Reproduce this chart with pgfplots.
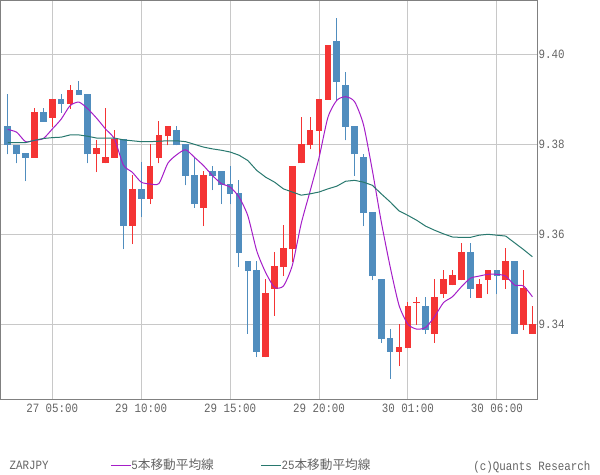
\documentclass[border=0pt]{standalone}
\usepackage{fontspec}
\usepackage{pgfplots}
\usepackage{pgfplotstable}
\pgfplotsset{compat=1.18}
\setmainfont{Liberation Mono}[FakeStretch=0.855]
\newfontfamily\jpf{Noto Sans CJK JP}
\definecolor{cred}{RGB}{244,52,52}
\definecolor{cblue}{RGB}{80,141,190}
\definecolor{cpurple}{RGB}{165,30,200}
\definecolor{cteal}{RGB}{40,120,110}
\definecolor{gridgray}{RGB}{200,200,200}
\definecolor{framegray}{RGB}{128,128,128}
\definecolor{txtgray}{RGB}{100,100,100}

\pgfplotstableread{
i o h l c
3 9.3770 9.3881 9.3770 9.3871
5 9.3859 9.3900 9.3839 9.3900
7 9.3890 9.3931 9.3879 9.3920
10 9.3778 9.3810 9.3738 9.3791
11 9.3758 9.3880 9.3758 9.3771
12 9.3770 9.3831 9.3770 9.3811
14 9.3618 9.3731 9.3578 9.3700
16 9.3678 9.3800 9.3667 9.3751
17 9.3770 9.3851 9.3758 9.3820
18 9.3818 9.3840 9.3798 9.3840
22 9.3659 9.3740 9.3618 9.3731
29 9.3327 9.3500 9.3327 9.3469
30 9.3479 9.3560 9.3419 9.3529
31 9.3527 9.3620 9.3507 9.3569
32 9.3567 9.3751 9.3538 9.3751
33 9.3758 9.3860 9.3758 9.3800
34 9.3798 9.3860 9.3789 9.3831
35 9.3830 9.3900 9.3776 9.3900
36 9.3899 9.4020 9.3899 9.4020
44 9.3339 9.3401 9.3307 9.3349
45 9.3347 9.3450 9.3347 9.3441
46 9.3447 9.3461 9.3399 9.3449
48 9.3379 9.3500 9.3359 9.3461
49 9.3467 9.3520 9.3459 9.3500
50 9.3487 9.3520 9.3487 9.3509
51 9.3498 9.3580 9.3498 9.3560
53 9.3459 9.3500 9.3459 9.3489
54 9.3498 9.3520 9.3467 9.3520
56 9.3498 9.3569 9.3479 9.3540
58 9.3399 9.3520 9.3387 9.3481
59 9.3379 9.3441 9.3379 9.3401
}\redtab

\pgfplotstableread{
i o h l c
0 9.3840 9.3911 9.3778 9.3799
1 9.3799 9.3799 9.3758 9.3778
2 9.3780 9.3780 9.3718 9.3770
4 9.3871 9.3881 9.3850 9.3850
6 9.3900 9.3911 9.3870 9.3890
8 9.3920 9.3940 9.3910 9.3910
9 9.3911 9.3911 9.3758 9.3778
13 9.3811 9.3811 9.3567 9.3618
15 9.3700 9.3760 9.3638 9.3678
19 9.3831 9.3840 9.3798 9.3798
20 9.3800 9.3800 9.3709 9.3730
21 9.3731 9.3773 9.3659 9.3667
23 9.3740 9.3751 9.3698 9.3730
24 9.3740 9.3740 9.3667 9.3709
25 9.3711 9.3751 9.3667 9.3690
26 9.3692 9.3720 9.3527 9.3558
27 9.3540 9.3540 9.3379 9.3518
28 9.3520 9.3540 9.3327 9.3339
37 9.4031 9.4080 9.3899 9.3939
38 9.3931 9.3960 9.3809 9.3839
39 9.3840 9.3840 9.3730 9.3778
40 9.3771 9.3779 9.3618 9.3647
41 9.3650 9.3650 9.3498 9.3507
42 9.3500 9.3500 9.3359 9.3367
43 9.3370 9.3390 9.3279 9.3339
47 9.3441 9.3461 9.3379 9.3387
52 9.3560 9.3580 9.3459 9.3479
55 9.3520 9.3520 9.3467 9.3507
57 9.3540 9.3540 9.3379 9.3379
}\bluetab

\pgfplotstableread{
i m5 m25
0 9.3833 9.3804
1 9.3827 9.3804
2 9.3806 9.3804
3 9.3809 9.3809
4 9.3813 9.3813
5 9.3834 9.3815
6 9.3856 9.3816
7 9.3886 9.3821
8 9.3894 9.3821
9 9.3879 9.3818
10 9.3858 9.3814
11 9.3834 9.3814
12 9.3812 9.3814
13 9.3754 9.3810
14 9.3738 9.3808
15 9.3716 9.3806
16 9.3712 9.3806
17 9.3713 9.3807
18 9.3758 9.3808
19 9.3777 9.3808
20 9.3788 9.3806
21 9.3771 9.3800
22 9.3753 9.3794
23 9.3731 9.3790
24 9.3713 9.3787
25 9.3705 9.3783
26 9.3683 9.3776
27 9.3641 9.3764
28 9.3563 9.3742
29 9.3515 9.3727
30 9.3482 9.3716
31 9.3485 9.3701
32 9.3531 9.3694
33 9.3624 9.3687
34 9.3696 9.3690
35 9.3770 9.3694
36 9.3860 9.3701
37 9.3898 9.3707
38 9.3906 9.3718
39 9.3895 9.3720
40 9.3844 9.3716
41 9.3742 9.3709
42 9.3628 9.3690
43 9.3528 9.3672
44 9.3442 9.3652
45 9.3400 9.3642
46 9.3389 9.3631
47 9.3393 9.3618
48 9.3417 9.3609
49 9.3448 9.3601
50 9.3461 9.3594
51 9.3483 9.3593
52 9.3502 9.3593
53 9.3507 9.3598
54 9.3511 9.3600
55 9.3511 9.3598
56 9.3507 9.3596
57 9.3487 9.3581
58 9.3485 9.3566
59 9.3461 9.3550
}\matab

\pgfplotsset{
  candle/.style={only marks, forget plot, mark options={draw=none, fill=none}, mark size=0pt,
    error bars/.cd, y dir=plus, y explicit, error mark=none,
    error bar style={line width=#1}},
}

\begin{document}
\begin{tikzpicture}
\useasboundingbox (0,0) rectangle (450pt,356.25pt);
\begin{axis}[
  at={(0.375pt,355.875pt)}, anchor=north west,
  scale only axis, width=402.4pt, height=299pt,
  xmin=-0.82, xmax=59.52, ymin=9.32333, ymax=9.412,
  enlargelimits=false,
  axis line style={framegray, line width=0.75pt},
  xmajorgrids, ymajorgrids,
  grid style={gridgray, line width=0.75pt},
  major tick length=0pt,
  xtick={5,15,25,35,45,55},
  xticklabels={27 05:00,29 10:00,29 15:00,29 20:00,30 01:00,30 06:00},
  ytick={9.34,9.36,9.38,9.40},
  yticklabels={9.34,9.36,9.38,9.40},
  yticklabel pos=right,
  ticklabel style={font=\fontsize{9.5}{10}\selectfont, text=txtgray, inner sep=0pt},
  xticklabel style={anchor=north, yshift=-3.75pt},
  yticklabel style={anchor=west, xshift=1pt},
  legend style={draw=none, fill=none, at={(0.2048,-0.1654)}, anchor=west,
    legend columns=2, inner sep=0pt, outer sep=0pt,
    nodes={inner sep=0pt, text=txtgray, font=\fontsize{9.5}{10}\selectfont},
    column sep=0pt,
    /tikz/every even column/.append style={column sep=35pt}},
  legend image code/.code={\draw[#1, line width=0.75pt] (0pt,0pt) -- (15pt,0pt);},
]
% wicks
\addplot[cred, candle=0.75pt] table[x=i, y=l, y error expr=\thisrow{h}-\thisrow{l}] {\redtab};
\addplot[cblue, candle=0.75pt] table[x=i, y=l, y error expr=\thisrow{h}-\thisrow{l}] {\bluetab};
% bodies
\addplot[cred, candle=5pt] table[x=i, y=o, y error expr=\thisrow{c}-\thisrow{o}] {\redtab};
\addplot[cblue, candle=5pt] table[x=i, y=c, y error expr=\thisrow{o}-\thisrow{c}] {\bluetab};
% moving averages
\addplot[cpurple, line width=0.75pt, smooth, tension=0.4, mark=none] table[x=i, y=m5] {\matab};
\addlegendentry{5{\jpf 本移動平均線}}
\addplot[cteal, line width=0.75pt, mark=none] table[x=i, y=m25] {\matab};
\addlegendentry{25{\jpf 本移動平均線}}
\end{axis}
\node[anchor=base west, inner sep=0pt, text=txtgray, font=\fontsize{9.5}{10}\selectfont] at (7pt,4.3pt) {ZARJPY};
\node[anchor=base east, inner sep=0pt, text=txtgray, font=\fontsize{9.5}{10}\selectfont] at (443pt,3.1pt) {(c)Quants Research};
\end{tikzpicture}
\end{document}
